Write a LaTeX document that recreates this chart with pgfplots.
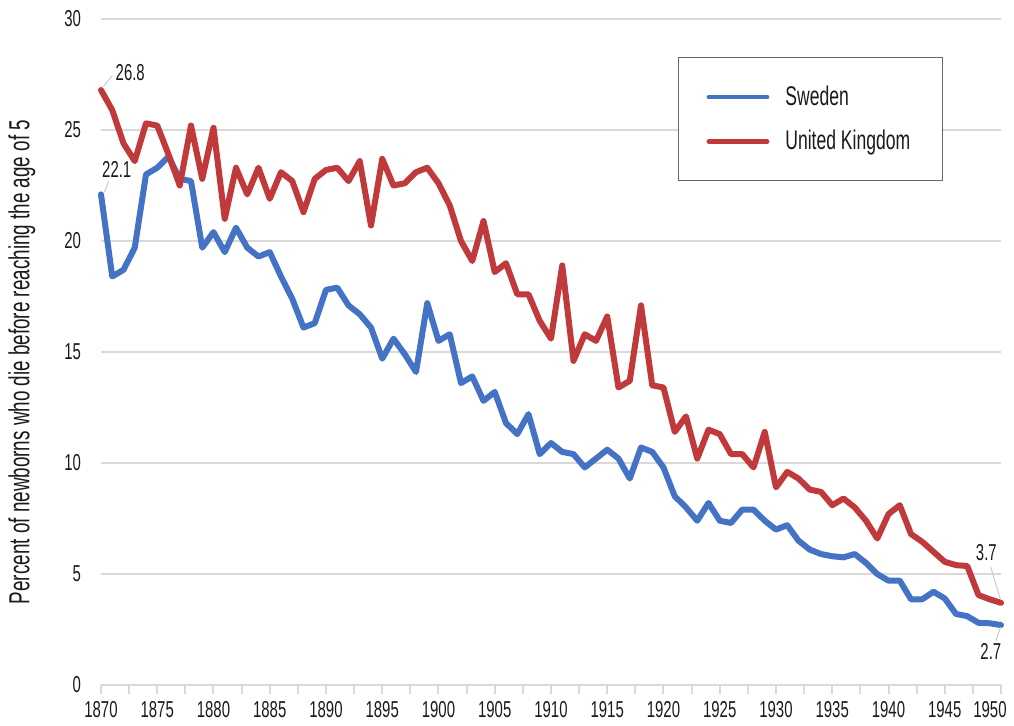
\documentclass[border=0pt]{standalone}
\usepackage{fontspec}
\setmainfont{Liberation Sans}[FakeStretch=0.65]
\usepackage{pgfplots}
\usepackage{pgfplotstable}
\pgfplotsset{compat=1.18}
\definecolor{swe}{HTML}{4472C4}
\definecolor{uk}{HTML}{C0393B}
\definecolor{gridc}{HTML}{D9D9D9}
\definecolor{txt}{HTML}{1A1A1A}
\pgfplotstableread{
year swe uk
1870 22.1 26.8
1871 18.4 25.9
1872 18.7 24.4
1873 19.7 23.6
1874 23.0 25.3
1875 23.3 25.2
1876 23.8 23.9
1877 22.8 22.5
1878 22.7 25.2
1879 19.7 22.8
1880 20.4 25.1
1881 19.5 21.0
1882 20.6 23.3
1883 19.7 22.1
1884 19.3 23.3
1885 19.5 21.9
1886 18.4 23.1
1887 17.4 22.7
1888 16.1 21.3
1889 16.3 22.8
1890 17.8 23.2
1891 17.9 23.3
1892 17.1 22.7
1893 16.7 23.6
1894 16.1 20.7
1895 14.7 23.7
1896 15.6 22.5
1897 14.9 22.6
1898 14.1 23.1
1899 17.2 23.3
1900 15.5 22.6
1901 15.8 21.6
1902 13.6 20.0
1903 13.9 19.1
1904 12.8 20.9
1905 13.2 18.6
1906 11.8 19.0
1907 11.3 17.6
1908 12.2 17.6
1909 10.4 16.4
1910 10.9 15.6
1911 10.5 18.9
1912 10.4 14.6
1913 9.8 15.8
1914 10.2 15.5
1915 10.6 16.6
1916 10.2 13.4
1917 9.3 13.7
1918 10.7 17.1
1919 10.5 13.5
1920 9.8 13.4
1921 8.5 11.4
1922 8.0 12.1
1923 7.4 10.2
1924 8.2 11.5
1925 7.4 11.3
1926 7.3 10.4
1927 7.9 10.4
1928 7.9 9.8
1929 7.4 11.4
1930 7.0 8.9
1931 7.2 9.6
1932 6.5 9.3
1933 6.1 8.8
1934 5.9 8.7
1935 5.8 8.1
1936 5.75 8.4
1937 5.9 8.0
1938 5.5 7.4
1939 5.0 6.6
1940 4.7 7.7
1941 4.7 8.1
1942 3.86 6.8
1943 3.86 6.45
1944 4.2 6.0
1945 3.9 5.55
1946 3.2 5.4
1947 3.1 5.36
1948 2.8 4.05
1949 2.78 3.86
1950 2.7 3.7
}\data

\newcommand{\tfont}{\fontsize{11.5}{13}\selectfont}
\begin{document}
\begin{tikzpicture}
\useasboundingbox (-50.5pt,-20pt) rectangle (456.5pt,342.5pt);
\begin{axis}[
  at={(0pt,0pt)}, anchor=south west,
  scale only axis, width=450pt, height=333pt,
  xmin=1870, xmax=1950, ymin=0, ymax=30,
  xtick={1870,1875,...,1950},
  xticklabels={1870,1875,1880,1885,1890,1895,1900,1905,1910,1915,1920,1925,1930,1935,1940,1945,{\makebox[0pt]{\kern-11pt 1950}}},
  minor xtick={1872.5,1877.5,...,1947.5},
  ytick={0,5,...,30},
  ymajorgrids,
  grid style={gridc, line width=1pt},
  axis x line*=bottom, axis y line*=left,
  x axis line style={gridc, line width=1pt, -},
  y axis line style={draw=none, -},
  ytick style={draw=none},
  xtick style={gridc, line width=1pt},
  minor tick style={gridc, line width=1pt},
  tick align=outside,
  major tick length=4.5pt, minor tick length=4.5pt,
  /pgf/number format/assume math mode=true,
  /pgf/number format/1000 sep={},
  ticklabel style={font=\tfont, text=txt},
  yticklabel style={xshift=-2pt},
  ylabel={Percent of newborns who die before reaching the age of 5},
  every axis y label/.style={at={(axis description cs:-0.088,0.485)}, anchor=center, rotate=90,
    font=\fontsize{14.5}{16}\selectfont, text=txt},
  legend style={at={(rel axis cs:0.6411,0.9429)}, anchor=north west,
    draw=gray!80!black, line width=0.6pt,
    font=\fontsize{13.5}{15}\selectfont, text=txt,
    inner xsep=14pt, inner ysep=12pt, row sep=7pt,
    /tikz/every odd column/.append style={column sep=6pt}},
  legend cell align=left,
  legend image code/.code={\draw[#1, line width=2.4pt, line cap=round] (0pt,0pt) -- (29pt,0pt);},
  clip=false,
]
\addplot[swe, line width=3pt, line join=round, line cap=round] table[x=year, y=swe] {\data};
\addlegendentry{Sweden}
\addplot[uk, line width=3pt, line join=round, line cap=round] table[x=year, y=uk] {\data};
\addlegendentry{United Kingdom\hspace{6pt}}
\draw[gray!40, line width=0.5pt] (axis cs:1870.2,26.95) -- (axis cs:1871,27.45);
\draw[gray!40, line width=0.5pt] (axis cs:1870.3,22.2) -- (axis cs:1870.7,22.7);
\draw[gray!40, line width=0.5pt] (axis cs:1949.95,3.85) -- (axis cs:1949.1,5.3);
\draw[gray!40, line width=0.5pt] (axis cs:1949.95,2.6) -- (axis cs:1949.55,2.0);
\node[font=\tfont, text=txt] at (axis cs:1872.6,27.57) {26.8};
\node[font=\tfont, text=txt] at (axis cs:1871.4,23.2) {22.1};
\node[font=\tfont, text=txt] at (axis cs:1948.7,5.95) {3.7};
\node[font=\tfont, text=txt] at (axis cs:1949.1,1.5) {2.7};
\end{axis}
\end{tikzpicture}
\end{document}
